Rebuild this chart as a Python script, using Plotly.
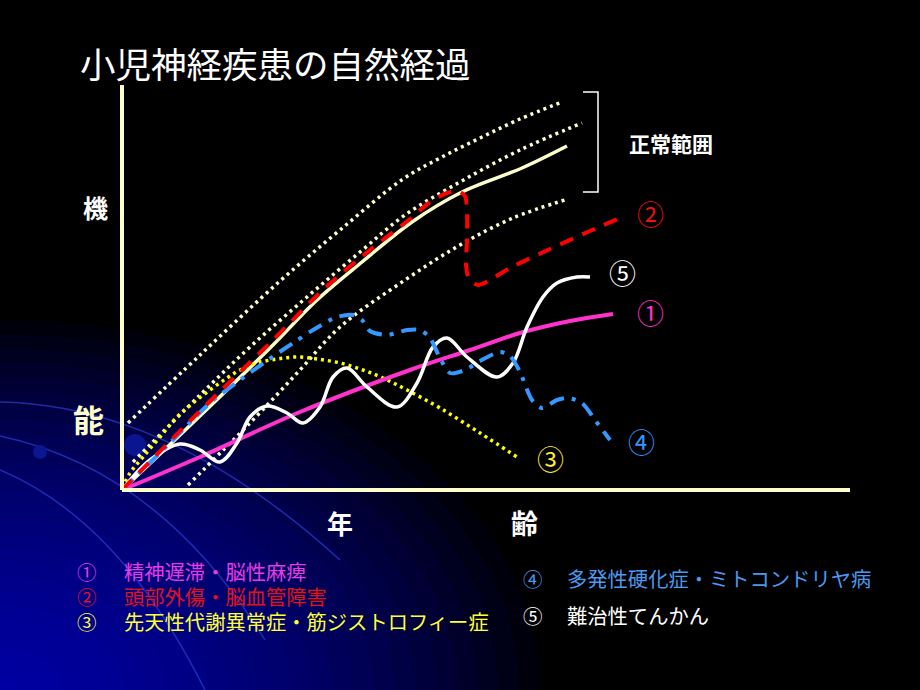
import plotly.graph_objects as go

W, H = 920, 690
FONT = "Noto Sans CJK JP"
FONT_COMPACT = "Liberation Sans, Noto Sans CJK JP"

# ---- data (x = 年齢, y = 機能; arbitrary units) ----
normal_mean_x = [0, 16, 30, 39, 48, 58, 68, 80, 89]
normal_mean_y = [0, 19, 36, 47.5, 57, 67, 74.5, 80.5, 86]

normal_upper_x = [1.2, 15.6, 31.6, 43.6, 56.2, 63.6, 71.6, 79.6, 88]
normal_upper_y = [16.75, 33.75, 52.25, 65, 77.75, 83, 88, 92.75, 97]

normal_mid_x = [2.2, 15.6, 25.6, 37, 47.6, 56.6, 67.6, 79.6, 92]
normal_mid_y = [7, 23.75, 35.75, 48.25, 59.5, 68.75, 77, 85, 91.75]

normal_lower_x = [13.2, 25.6, 35.6, 43.6, 56.6, 67.6, 78.2, 89.2]
normal_lower_y = [1.25, 16.75, 30, 40.75, 52.5, 61.25, 68, 72.75]

s1_x = [0, 15.6, 35.6, 57.6, 69.6, 79.6, 89.6, 98.2]
s1_y = [0, 8.25, 19.5, 30, 35, 39.25, 42.25, 44]

s2_x = [0, 15.6, 29.6, 40.6, 49.6, 57.6, 61.6, 65, 67.2, 68.6, 69, 69, 68.8,
        69.4, 71.2, 73.6, 77.6, 85.6, 93.6, 99.6]
s2_y = [0, 19.75, 36.75, 50.5, 60, 67.75, 72, 74.25, 74.75, 73.5, 70, 62.5,
        56.25, 52.75, 51.25, 52.5, 55.5, 60.25, 64.75, 68]

s3_x = [0, 1.6, 4.2, 7.6, 11, 14.2, 17.6, 21, 23.6, 27, 31, 35, 39, 43.6,
        48.2, 52.2, 57, 63.6, 71.6, 79]
s3_y = [0.5, 4.25, 8.25, 13.25, 18.25, 21.75, 25, 28, 30, 31.75, 32.75,
        33.25, 32.75, 31.75, 30, 28, 25, 20.5, 14.25, 8.25]

s4_x = [0, 9.6, 17.6, 23.6, 28.6, 34.2, 38.2, 43, 46.2, 48, 49.6, 53, 57,
        59.6, 61.6, 63.6, 65.6, 68.6, 71.6, 75.6, 77.6, 79.6, 82, 84, 87,
        89.2, 92, 94.6, 97.6]
s4_y = [0, 11.75, 21.75, 27.5, 32, 36.75, 40, 43.25, 43.75, 42.5, 39.75,
        38.75, 40, 40, 38, 33, 29.25, 30, 32.25, 34.5, 33.5, 29.5, 22.5,
        20.5, 22.5, 23, 21.75, 17.5, 12.5]

s5_x = [0, 5.6, 11.6, 15.6, 19.6, 23, 25.6, 29, 33, 36.2, 39.6, 42.2, 45,
        49, 55, 59, 62.2, 65, 69, 75, 78.2, 81, 84.2, 87, 91, 93.6]
s5_y = [0, 7.5, 11.5, 10, 7, 11.75, 18.25, 21, 19.25, 16.75, 20.75, 28.25,
        30.5, 25.75, 20.75, 26.75, 35.75, 38, 33.25, 28.25, 31.75, 40.75,
        48.25, 51.75, 53.25, 53.25]

series_marks = ["①", "②", "③", "④", "⑤"]
series_names = ["精神遅滞・脳性麻痺", "頭部外傷・脳血管障害",
                "先天性代謝異常症・筋ジストロフィー症",
                "多発性硬化症・ミトコンドリヤ病", "難治性てんかん"]

title_text = "小児神経疾患の自然経過"
y_label = ["機", "能"]
x_label = ["年", "齢"]
normal_label = "正常範囲"

CREAM = "#FFFFCC"
C1, C2, C3, C4, C5 = "#FF33CC", "#FF0000", "#FFFF00", "#3399FF", "#FFFFFF"


def P(x, y):
    return x / W, 1 - y / H


fig = go.Figure()

dot = "3px,4px"
fig.add_trace(go.Scatter(x=normal_mean_x, y=normal_mean_y, mode="lines",
                         line=dict(color=CREAM, width=3.5, shape="spline")))
for xs, ys in [(normal_upper_x, normal_upper_y), (normal_mid_x, normal_mid_y),
               (normal_lower_x, normal_lower_y)]:
    fig.add_trace(go.Scatter(x=xs, y=ys, mode="lines",
                             line=dict(color=CREAM, width=3.5, dash=dot,
                                       shape="spline")))
fig.add_trace(go.Scatter(x=s3_x, y=s3_y, mode="lines",
                         line=dict(color=C3, width=3.5, dash=dot, shape="spline")))
fig.add_trace(go.Scatter(x=s1_x, y=s1_y, mode="lines",
                         line=dict(color=C1, width=4, shape="spline")))
fig.add_trace(go.Scatter(x=s5_x, y=s5_y, mode="lines",
                         line=dict(color=C5, width=3.5, shape="spline")))
fig.add_trace(go.Scatter(x=s4_x, y=s4_y, mode="lines",
                         line=dict(color=C4, width=4, dash="15px,8px,4px,8px",
                                   shape="spline", smoothing=0.8)))
fig.add_trace(go.Scatter(x=s2_x, y=s2_y, mode="lines",
                         line=dict(color=C2, width=4, dash="14px,10px",
                                   shape="spline", smoothing=0.7)))

shapes = []
# background gradient in the lower-left corner
n = 26
for i in range(n):
    k = 1 - i / n
    rx, ry = 540 * k, 370 * k
    x0, y0 = P(-rx, 690 + ry)
    x1, y1 = P(rx, 690 - ry)
    shapes.append(dict(type="circle", xref="paper", yref="paper",
                       x0=x0, y0=y0, x1=x1, y1=y1, layer="below",
                       line=dict(width=0),
                       fillcolor="rgba(0,0,220,0.055)"))


def path(pts):
    s = ""
    for i, (x, y) in enumerate(pts):
        px, py = P(x, y)
        if i == 0:
            s += f"M {px:.4f} {py:.4f} "
        elif i == 1:
            s += f"Q {px:.4f} {py:.4f} "
        else:
            s += f"{px:.4f} {py:.4f} "
    return s


for pts in [[(0, 402), (170, 405), (340, 560)],
            [(0, 436), (160, 470), (265, 640)],
            [(0, 470), (120, 520), (205, 690)]]:
    shapes.append(dict(type="path", xref="paper", yref="paper", layer="below",
                       path=path(pts),
                       line=dict(color="rgba(45,60,210,0.7)", width=1.5)))
for (cx, cy, r) in [(135, 445, 11), (40, 452, 7)]:
    x0, y0 = P(cx - r, cy + r)
    x1, y1 = P(cx + r, cy - r)
    shapes.append(dict(type="circle", xref="paper", yref="paper", layer="below",
                       x0=x0, y0=y0, x1=x1, y1=y1, line=dict(width=0),
                       fillcolor="#0A1690"))

# axes
for (a, b) in [((122, 490), (850, 490)), ((122, 490), (122, 85))]:
    x0, y0 = P(*a)
    x1, y1 = P(*b)
    shapes.append(dict(type="line", xref="paper", yref="paper",
                       x0=x0, y0=y0, x1=x1, y1=y1,
                       line=dict(color=CREAM, width=4)))
# bracket for normal range
bp = [(583, 92), (598, 92), (598, 192), (583, 192)]
s = ""
for i, (x, y) in enumerate(bp):
    px, py = P(x, y)
    s += ("M " if i == 0 else "L ") + f"{px:.4f} {py:.4f} "
shapes.append(dict(type="path", xref="paper", yref="paper", path=s,
                   line=dict(color="#FFFFFF", width=1.5)))

ann = []


def text(t, x, y, size, color, bold=False, xanchor="center", family=FONT):
    px, py = P(x, y)
    ann.append(dict(text=t, x=px, y=py, xref="paper", yref="paper",
                    xanchor=xanchor, yanchor="middle", showarrow=False,
                    align="left",
                    font=dict(family=family, size=size, color=color,
                              weight=700 if bold else 400)))


text(title_text, 78, 62, 35.5, "#FFFFFF", xanchor="left")
text(y_label[0], 95, 207, 25, "#FFFFFF", bold=True)
text(y_label[1], 88, 418, 31, CREAM, bold=True)
text(x_label[0], 340, 522, 26, "#FFFFFF", bold=True)
text(x_label[1], 524, 522, 27, "#FFFFFF", bold=True)
text(normal_label, 671, 143, 21, "#FFFFFF", bold=True)

end_pos = [(650, 312), (650, 213), (550, 458), (641, 441), (622, 273)]
mark_colors = ["#FF33CC", "#EE1111", "#FFEE33", "#3399FF", "#FFFFFF"]
for m, (x, y), c in zip(series_marks, end_pos, mark_colors):
    text(m, x, y, 27, c)

leg_colors = ["#E63CE6", "#E01414", "#FFFF33", "#4A9AF0", "#FFFFFF"]
left_rows = [573, 598, 623]
for m, nm, c, y in zip(series_marks[:3], series_names[:3], leg_colors[:3],
                       left_rows):
    text(m, 87, y, 19.5, c, family=FONT_COMPACT)
    text(nm, 122, y, 20.3, c, xanchor="left", family=FONT_COMPACT)

for m, nm, c, y in zip(series_marks[3:], series_names[3:], leg_colors[3:],
                       [580, 617]):
    text(m, 533, y, 19.5, c, family=FONT_COMPACT)
    text(nm, 565, y, 20.3, c, xanchor="left", family=FONT_COMPACT)

fig.update_layout(
    width=W, height=H, margin=dict(l=0, r=0, t=0, b=0),
    paper_bgcolor="#000000", plot_bgcolor="rgba(0,0,0,0)",
    showlegend=False, shapes=shapes, annotations=ann,
    xaxis=dict(range=[(0 - 122) / 5, (920 - 122) / 5], visible=False,
               fixedrange=True),
    yaxis=dict(range=[(490 - 690) / 4, 490 / 4], visible=False,
               fixedrange=True),
)
fig.write_html("out.html", config={"displayModeBar": False},
               post_script="document.body.style.margin='0';"
                           "document.body.style.background='#000';")
